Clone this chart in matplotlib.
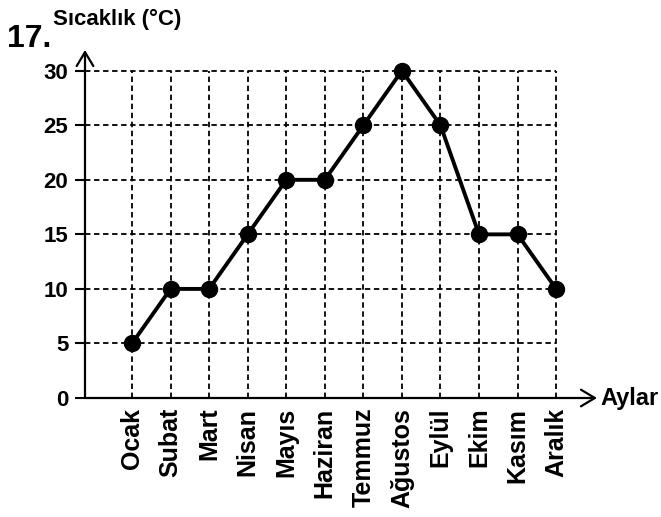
import numpy as np
import matplotlib.pyplot as plt

plt.rcParams['font.family'] = ['Liberation Sans', 'DejaVu Sans']
plt.rcParams['font.weight'] = 'bold'

aylar = ['Ocak', 'Subat', 'Mart', 'Nisan', 'Mayıs', 'Haziran', 'Temmuz',
         'Ağustos', 'Eylül', 'Ekim', 'Kasım', 'Aralık']
sicaklik = [5, 10, 10, 15, 20, 20, 25, 30, 25, 15, 15, 10]
y_ticks = [0, 5, 10, 15, 20, 25, 30]

fig = plt.figure(figsize=(6.61, 5.17), dpi=100)
ax = fig.add_axes([85 / 661, (517 - 398) / 517, (597 - 85) / 661, (398 - 50) / 517])

x = np.arange(len(aylar))
ax.set_xlim(-1.22, 12.06)
ax.set_ylim(0, 31.9)

# dashed grid
ax.hlines(y_ticks[1:], -1.22, x[-1], colors='black', linestyles=(0, (3, 2)), lw=1.3)
ax.vlines(x, 0, max(y_ticks), colors='black', linestyles=(0, (3, 2)), lw=1.3)

ax.plot(x, sicaklik, color='black', lw=2.8, marker='o', markersize=11.5, zorder=5)

for s in ax.spines.values():
    s.set_visible(False)

# axes with arrows
arrow = dict(arrowstyle='->, head_length=0.5, head_width=0.3', lw=1.6, color='black',
             mutation_scale=20, shrinkA=0, shrinkB=0)
ax.annotate('', xy=(0, 1), xytext=(0, 0), xycoords='axes fraction',
            arrowprops=arrow, annotation_clip=False)
ax.annotate('', xy=(1, 0), xytext=(0, 0), xycoords='axes fraction',
            arrowprops=arrow, annotation_clip=False)

ax.set_yticks(y_ticks)
ax.set_yticklabels([str(v) for v in y_ticks], fontsize=16, fontweight='bold')
ax.tick_params(axis='y', direction='out', length=7, width=1.5, pad=5)

ax.set_xticks(x)
ax.set_xticklabels(aylar, rotation=90, fontsize=18, fontweight='bold')
ax.tick_params(axis='x', length=0, pad=7)

ax.text(1.006, 0, 'Aylar', transform=ax.transAxes, fontsize=17, fontweight='bold',
        ha='left', va='center')
fig.text(53 / 661, 1 - 25 / 517, 'Sıcaklık (°C)', fontsize=16, fontweight='bold',
         ha='left', va='baseline')
fig.text(7 / 661, 1 - 47 / 517, '17.', fontsize=23, fontweight='bold',
         ha='left', va='baseline')

fig.savefig('out.png', dpi=100)
